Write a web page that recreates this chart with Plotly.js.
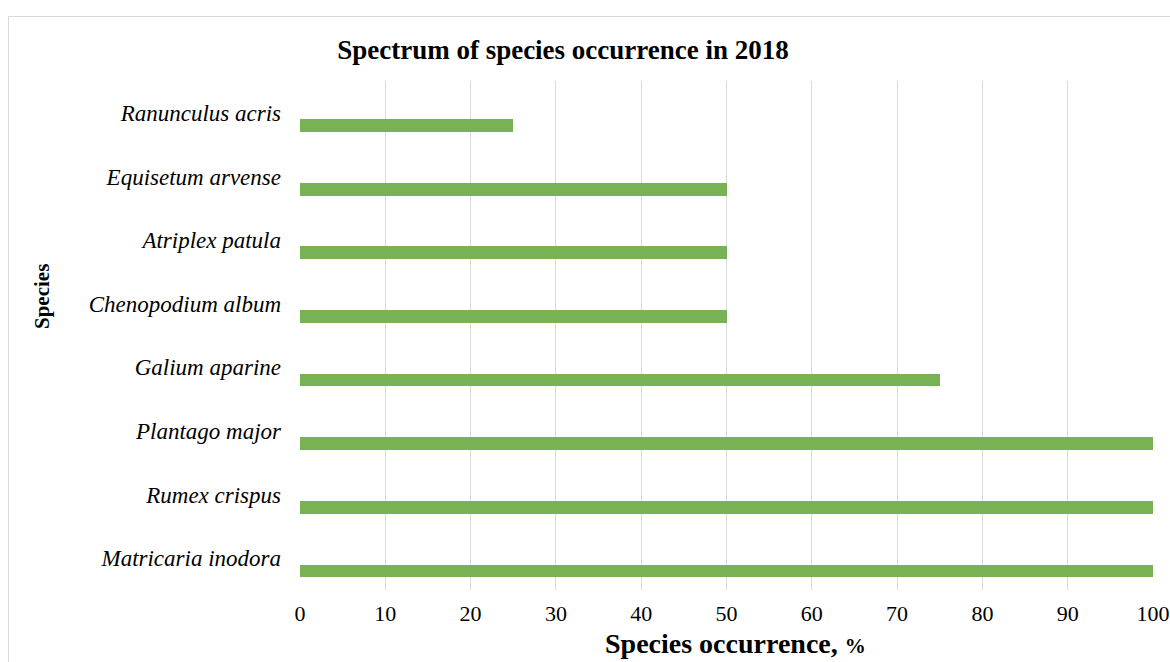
<!DOCTYPE html>
<html>
<head>
<meta charset="utf-8">
<script src="https://cdn.plot.ly/plotly-3.0.1.min.js"></script>
<style>
  html, body { margin: 0; padding: 0; background: #ffffff; overflow: hidden; }
  #wrap { position: relative; width: 1170px; height: 662px; }
  #chart { position: absolute; left: 0; top: 0; width: 1170px; height: 662px; }
  #frame {
    position: absolute; left: 8px; top: 16px; width: 1200px; height: 700px;
    border: 1px solid #d9d9d9; pointer-events: none;
  }
</style>
</head>
<body>
<div id="wrap">
  <div id="chart"></div>
  <div id="frame"></div>
</div>
<script>
// Species, listed from the bottom row of the chart upward
const species = [
  "Matricaria inodora",
  "Rumex crispus",
  "Plantago major",
  "Galium aparine",
  "Chenopodium album",
  "Atriplex patula",
  "Equisetum arvense",
  "Ranunculus acris"
];
// Occurrence of each species in 2018, %
const occurrence = [100, 100, 100, 75, 50, 50, 50, 25];
const xTicks = [0, 10, 20, 30, 40, 50, 60, 70, 80, 90, 100];

const serif = '"Liberation Serif", "Times New Roman", serif';

// plot-area geometry in pixels, used to place the free-standing axis titles
const W = 1170, H = 662;
const M = { l: 300, r: 17, t: 81, b: 72 };
const plotW = W - M.l - M.r;
const plotH = H - M.t - M.b;

const trace = {
  type: 'bar',
  orientation: 'h',
  x: occurrence,
  y: species,
  width: 0.2,
  offset: -0.3,
  marker: { color: '#78b254', line: { width: 0 } },
  hoverinfo: 'x+y'
};

const layout = {
  width: W,
  height: H,
  margin: { l: M.l, r: M.r, t: M.t, b: M.b, pad: 0 },
  paper_bgcolor: '#ffffff',
  plot_bgcolor: '#ffffff',
  showlegend: false,
  title: {
    text: '<b>Spectrum of species occurrence in 2018</b>',
    font: { family: serif, size: 27, color: '#000000' },
    xref: 'container', yref: 'container',
    x: 563 / W, xanchor: 'center',
    y: 1 - 50 / H, yanchor: 'middle'
  },
  xaxis: {
    range: [0, 100],
    tickvals: xTicks,
    ticktext: xTicks.map(String),
    showgrid: true,
    gridcolor: '#d9d9d9',
    gridwidth: 1,
    zeroline: false,
    showline: false,
    ticks: '',
    ticklabelstandoff: 8,
    tickfont: { family: serif, size: 22, color: '#000000' },
    fixedrange: true
  },
  yaxis: {
    type: 'category',
    categoryorder: 'array',
    categoryarray: species,
    range: [-0.5, species.length - 0.5],
    showgrid: false,
    zeroline: false,
    showline: false,
    ticks: '',
    ticklabelstandoff: 18,
    tickfont: { family: serif, size: 23, color: '#000000', style: 'italic' },
    fixedrange: true
  },
  annotations: [
    {
      text: '<b>Species occurrence, <span style="font-size:21px">%</span></b>',
      font: { family: serif, size: 28, color: '#000000' },
      xref: 'paper', yref: 'paper',
      x: (735 - M.l) / plotW, xanchor: 'center',
      y: -(643 - (M.t + plotH)) / plotH, yanchor: 'middle',
      showarrow: false
    },
    {
      text: '<b>Species</b>',
      font: { family: serif, size: 21, color: '#000000' },
      textangle: -90,
      xref: 'paper', yref: 'paper',
      x: (42 - M.l) / plotW, xanchor: 'center',
      y: 1 - (297 - M.t) / plotH, yanchor: 'middle',
      showarrow: false
    }
  ],
  bargap: 0
};

Plotly.newPlot('chart', [trace], layout, { displayModeBar: false, staticPlot: true });
</script>
</body>
</html>
